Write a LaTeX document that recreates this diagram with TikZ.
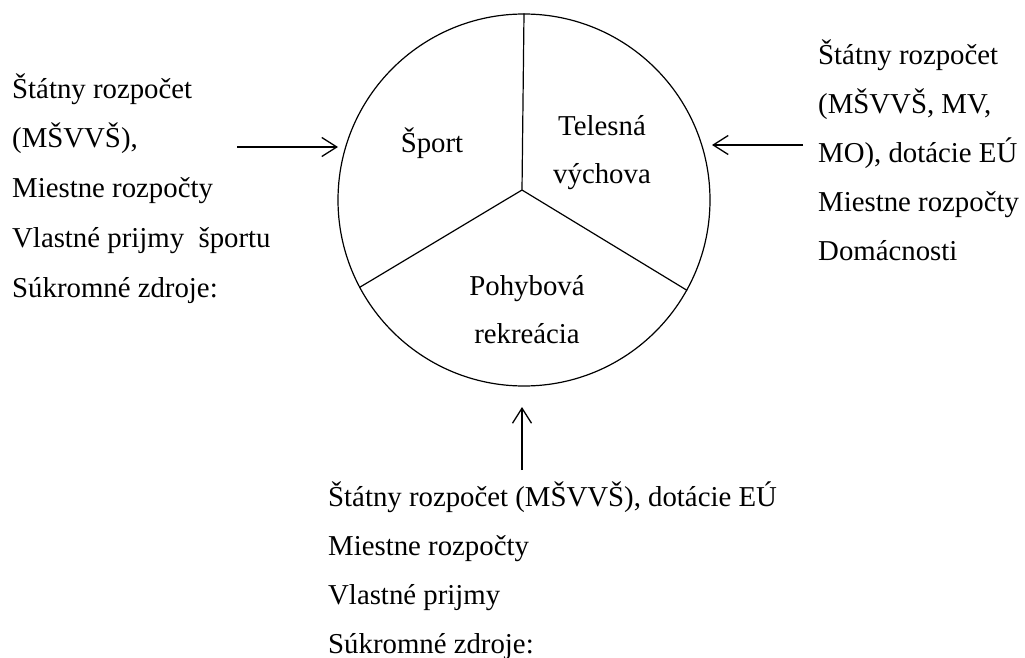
\documentclass[tikz,border=0pt]{standalone}
\usepackage{fontspec}
\setmainfont{Liberation Serif}
\usetikzlibrary{arrows.meta}
\begin{document}
\begin{tikzpicture}[x=1pt,y=-1pt,
    zdroj/.style={font=\fontsize{28.8}{49.5}\selectfont,inner sep=0pt,align=left,anchor=base west},
    oblast/.style={font=\fontsize{28.8}{48}\selectfont,inner sep=0pt,align=center,anchor=base},
    sipka/.style={-{Straight Barb[length=15pt,width=19pt]},line width=1.3pt}]
  \useasboundingbox (0,0) rectangle (1025,658);
  \node[draw,circle,minimum size=372pt,inner sep=0pt,line width=1.2pt] (kruh) at (524,200) {};
  \coordinate (stred) at (522,190);
  \draw[line width=1.2pt]
    (stred) -- (kruh.90.6)
    (stred) -- (kruh.208.4)
    (stred) -- (kruh.331.7);
  % popisy v kruhu (base = posledny riadok)
  \draw
    (432,153) node[oblast] (sport){Šport}
    (602,183) node[oblast] (telesna){Telesná\\výchova}
    (527,343) node[oblast] (pohyb){Pohybová\\rekreácia};
  \draw
    (12,297) node[zdroj,font=\fontsize{28.8}{49.75}\selectfont] (lzdroje){Štátny rozpočet\\(MŠVVŠ),\\Miestne rozpočty\\Vlastné prijmy\ \ športu\\Súkromné zdroje:}
    (818,260) node[zdroj,font=\fontsize{28.8}{49}\selectfont] (pzdroje){Štátny rozpočet\\(MŠVVŠ, MV,\\MO), dotácie EÚ\\Miestne rozpočty\\Domácnosti}
    (328,653) node[zdroj,font=\fontsize{28.8}{49}\selectfont] (dzdroje){Štátny rozpočet (MŠVVŠ), dotácie EÚ\\Miestne rozpočty\\Vlastné prijmy\\Súkromné zdroje:};
  \coordinate (lz) at (237,147);
  \coordinate (lk) at (338,147);
  \coordinate (pz) at (803,145);
  \coordinate (pk) at (712,145);
  \coordinate (dz) at (522,470);
  \coordinate (dk) at (522,407);
  \begin{scope}[sipka]
    \draw (lz) to (lk);
    \draw (pz) to (pk);
    \draw (dz) to (dk);
  \end{scope}
\end{tikzpicture}
\end{document}
